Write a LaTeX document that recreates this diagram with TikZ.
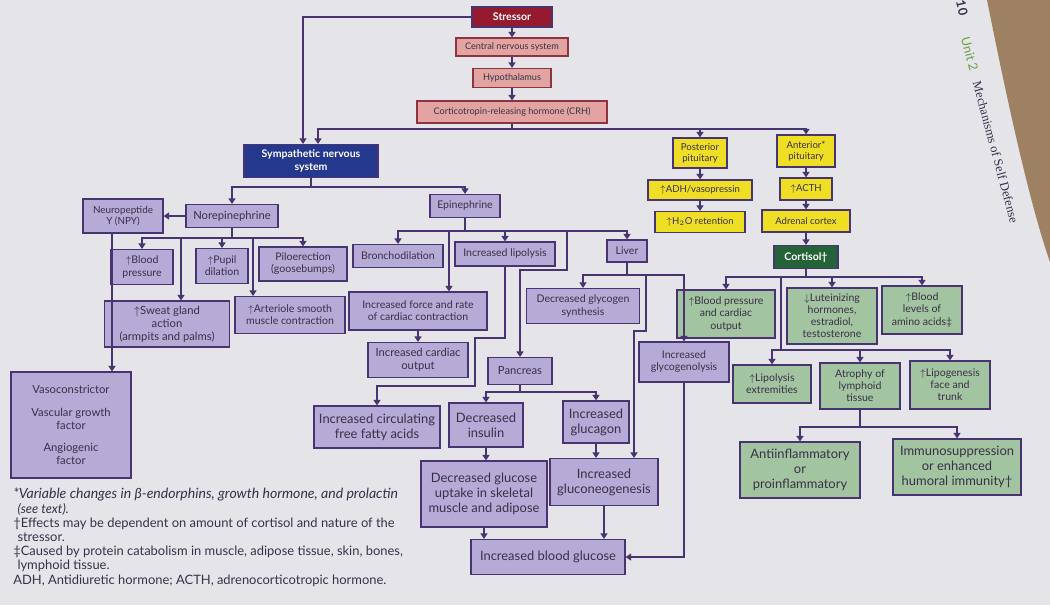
\documentclass[tikz,border=0pt]{standalone}
\usepackage{fontspec}
\setmainfont{Lato}
\newfontfamily\headfont{Liberation Serif}
\usepackage{amsmath, amssymb}
\usepackage{xcolor}
\usetikzlibrary{arrows.meta, positioning, calc}

\definecolor{PaperC}{RGB}{228,228,233}
\definecolor{CarpetC}{RGB}{158,128,98}
\definecolor{LineC}{RGB}{72,52,112}
\definecolor{TextC}{RGB}{58,48,72}
\definecolor{PurpF}{RGB}{182,170,214}
\definecolor{PinkF}{RGB}{226,164,160}
\definecolor{PinkD}{RGB}{140,52,64}
\definecolor{YelF}{RGB}{238,222,36}
\definecolor{GreenF}{RGB}{162,196,160}
\definecolor{StressF}{RGB}{150,26,46}
\definecolor{SnsF}{RGB}{36,56,142}
\definecolor{CortF}{RGB}{38,98,56}
\definecolor{UnitC}{RGB}{110,160,70}

\tikzset{
  box/.style={draw=LineC, line width=0.8pt, inner sep=1pt, align=center,
              text=TextC, font=\fontsize{7.5}{8.6}\selectfont},
  sz/.style 2 args={minimum width=#1*0.025cm, minimum height=#2*0.025cm},
  purpleB/.style={box, fill=PurpF},
  pinkB/.style={box, draw=PinkD, fill=PinkF, font=\fontsize{6.5}{7.5}\selectfont},
  yellowB/.style={box, fill=YelF, font=\fontsize{6.8}{7.8}\selectfont},
  greenB/.style={box, fill=GreenF},
  darkB/.style={box, text=white, font=\fontsize{7.5}{8.6}\selectfont\bfseries},
  txtM/.style={font=\fontsize{8}{9.2}\selectfont},
  txtS/.style={font=\fontsize{7}{8}\selectfont},
  txtL/.style={font=\fontsize{9.2}{10.6}\selectfont},
  wire/.style={draw=LineC, line width=1pt},
  conn/.style={wire, -{Triangle[width=5pt,length=4pt]}},
}

\begin{document}
\begin{tikzpicture}[x=0.025cm, y=-0.025cm]
    \useasboundingbox (0,0) rectangle (1050,605);
    %% page and carpet
    \fill[PaperC] (0,0) rectangle (1050,605);
    \fill[CarpetC] (987,0) .. controls (1008,105) and (1030,205) .. (1050,262) -- (1050,0) -- cycle;
    \node[rotate=-76, text=TextC, font=\fontsize{9}{10}\selectfont\bfseries] (pg) at (962,8) {10};
    \node[rotate=-75, text=TextC, font=\headfont\fontsize{9}{10}\selectfont] (title) at (990,130)
      {{\color{UnitC}\rmfamily Unit 2}\hspace{8pt}Mechanisms of Self Defense};

    %% stressor chain
    \node[darkB, fill=StressF, sz={80}{20}] (stress) at (512,17) {Stressor};
    \node[pinkB, sz={112}{18}] (cns) at (512,47) {Central nervous system};
    \node[pinkB, sz={78}{19}] (hypo) at (512,78) {Hypothalamus};
    \node[pinkB, sz={190}{22}] (crh) at (512,112) {Corticotropin-releasing hormone (CRH)};
    \draw[conn] (stress) -- (cns);
    \draw[conn] (cns) -- (hypo);
    \draw[conn] (hypo) -- (crh);

    %% sympathetic and pituitary
    \node[darkB, fill=SnsF, sz={134}{33}] (sns) at (311,161) {Sympathetic nervous\\system};
    \coordinate (sL) at (303,17);
    \draw[conn] (stress.west) -- (sL) -- (sL |- sns.north);
    \coordinate (crhB) at (512,129);
    \coordinate (snsR) at (318,129);
    \draw[wire] (crh.south) -- (crhB);
    \draw[conn] (crhB) -- (snsR) -- (snsR |- sns.north);
    \node[yellowB, sz={54}{30}] (post) at (700,153) {Posterior\\pituitary};
    \node[yellowB, sz={58}{32}] (ant) at (806,151) {Anterior*\\pituitary};
    \draw[conn] (crhB) -| (post);
    \draw[conn] (crhB) -| (ant);
    \node[yellowB, sz={104}{20}] (adh) at (700,190) {$\uparrow$ADH/vasopressin};
    \node[yellowB, sz={90}{21}] (h2o) at (700,222) {$\uparrow$H$_2$O retention};
    \node[yellowB, sz={52}{22}] (acth) at (806,189) {$\uparrow$ACTH};
    \node[yellowB, sz={88}{22}] (adrenal) at (806,221) {Adrenal cortex};
    \node[darkB, fill=CortF, sz={64}{23}] (cort) at (806,257) {Cortisol\textdagger};
    \draw[conn] (post) -- (adh);
    \draw[conn] (adh) -- (h2o);
    \draw[conn] (ant) -- (acth);
    \draw[conn] (acth) -- (adrenal);
    \draw[conn] (adrenal) -- (cort);

    %% cortisol effects
    \node[greenB, sz={98}{48}] (bpc) at (726,314) {$\uparrow$Blood pressure\\and cardiac\\output};
    \node[greenB, sz={90}{56}] (lh) at (832,316) {$\downarrow$Luteinizing\\hormones,\\estradiol,\\testosterone};
    \node[greenB, sz={80}{48}] (amino) at (922,310) {$\uparrow$Blood\\levels of\\amino acids\textdaggerdbl};
    \coordinate (cB) at (806,277);
    \draw[wire] (cort.south) -- (cB);
    \draw[conn] (cB) -| (bpc);
    \draw[conn] (cB) -| (lh);
    \draw[conn] (cB) -| (amino);
    \node[greenB, sz={78}{38}] (lipx) at (772,384) {$\uparrow$Lipolysis\\extremities};
    \node[greenB, sz={80}{46}] (atro) at (860,386) {Atrophy of\\lymphoid\\tissue};
    \node[greenB, sz={80}{48}] (lipg) at (950,385) {$\uparrow$Lipogenesis\\face and\\trunk};
    \coordinate (cB2) at (781,277);
    \coordinate (cB3) at (781,350);
    \draw[wire] (cB2) -- (cB3);
    \draw[conn] (cB3) -| (lipx);
    \draw[conn] (cB3) -| (atro);
    \draw[conn] (cB3) -| (lipg);
    \node[greenB, txtL, sz={120}{56}] (infl) at (800,470) {Antiinflammatory\\or\\proinflammatory};
    \node[greenB, txtL, sz={128}{56}] (immu) at (957,467) {Immunosuppression\\or enhanced\\humoral immunity\textdagger};
    \coordinate (aB) at (860,427);
    \draw[wire] (atro.south) -- (aB);
    \draw[conn] (aB) -| (infl);
    \draw[conn] (aB) -| (immu);

    %% norepinephrine side
    \coordinate (sB) at (311,187);
    \draw[wire] (sns.south) -- (sB);
    \node[purpleB, txtM, sz={92}{23}] (nor) at (232,216) {Norepinephrine};
    \node[purpleB, sz={70}{23}] (epi) at (465,206) {Epinephrine};
    \draw[conn] (sB) -| (nor);
    \draw[conn] (sB) -| (epi);
    \node[purpleB, txtS, sz={80}{34}] (npy) at (123,216) {Neuropeptide\\Y (NPY)};
    \draw[conn] (nor) -- (npy);
    \coordinate (nB) at (232,238);
    \draw[wire] (nor.south) -- (nB);
    \node[purpleB, sz={62}{35}] (bp) at (142,267) {$\uparrow$Blood\\pressure};
    \node[purpleB, sz={52}{35}] (pupil) at (222,266) {$\uparrow$Pupil\\dilation};
    \node[purpleB, sz={88}{34}] (pilo) at (303,264) {Piloerection\\(goosebumps)};
    \draw[conn] (nB) -| (bp);
    \draw[conn] (nB) -| (pupil);
    \draw[conn] (nB) -| (pilo);
    \node[purpleB, txtM, sz={125}{46}] (sweat) at (167,324) {$\uparrow$Sweat gland\\action\\(armpits and palms)};
    \node[purpleB, sz={110}{37}] (arter) at (290,315) {$\uparrow$Arteriole smooth\\muscle contraction};
    \coordinate (swB) at (181,238);
    \coordinate (arB) at (253,238);
    \draw[conn] (swB) -- (swB |- sweat.north);
    \draw[conn] (arB) -- (arB |- arter.north);
    \node[purpleB, txtM, sz={120}{106}] (vaso) at (71,425) {Vasoconstrictor\\[7pt]Vascular growth\\factor\\[7pt]Angiogenic\\factor};
    \coordinate (npyB) at (112,300);
    \draw[conn] (npy.south -| npyB) -- (npyB |- vaso.north);

    %% epinephrine side
    \coordinate (eB) at (465,231);
    \draw[wire] (epi.south) -- (eB);
    \node[purpleB, sz={90}{23}] (bronch) at (398,256) {Bronchodilation};
    \node[purpleB, sz={100}{24}] (lipo) at (505,254) {Increased lipolysis};
    \node[purpleB, sz={40}{22}] (liver) at (627,251) {Liver};
    \draw[conn] (eB) -| (bronch);
    \draw[conn] (eB) -| (lipo);
    \draw[conn] (eB) -| (liver);
    \node[purpleB, sz={138}{38}] (force) at (418,311) {Increased force and rate\\of cardiac contraction};
    \coordinate (fB) at (449,231);
    \draw[conn] (fB) -- (fB |- force.north);
    \node[purpleB, txtM, sz={100}{35}] (cout) at (418,360) {Increased cardiac\\output};
    \draw[conn] (force) -- (cout);
    \node[purpleB, txtM, sz={64}{27}] (panc) at (520,371) {Pancreas};
    \coordinate (pB) at (567,231);
    \coordinate (pB2) at (567,270);
    \coordinate (pB3) at (520,270);
    \draw[conn] (pB) -- (pB2) -- (pB3) -- (pB3 |- panc.north);
    \node[purpleB, txtL, sz={126}{42}] (ffa) at (377,427) {Increased circulating\\free fatty acids};
    \coordinate (lf1) at (505,338);
    \coordinate (lf2) at (475,338);
    \coordinate (lf3) at (475,386);
    \coordinate (lf4) at (377,386);
    \draw[conn] (lipo.south) -- (lf1) -- (lf2) -- (lf3) -- (lf4) -- (lf4 |- ffa.north);

    %% pancreas and glucose
    \node[purpleB, txtL, sz={74}{44}] (insul) at (486,425) {Decreased\\insulin};
    \node[purpleB, txtL, sz={66}{42}] (gluca) at (596,422) {Increased\\glucagon};
    \coordinate (paB) at (520,392);
    \draw[wire] (panc.south) -- (paB);
    \draw[conn] (paB) -| (insul);
    \draw[conn] (paB) -| (gluca);
    \node[purpleB, txtL, sz={126}{66}] (uptake) at (484,494) {Decreased glucose\\uptake in skeletal\\muscle and adipose};
    \node[purpleB, txtL, sz={108}{47}] (gneo) at (604,482) {Increased\\gluconeogenesis};
    \node[purpleB, txtL, sz={154}{35}] (bg) at (548,557) {Increased blood glucose};
    \draw[conn] (insul.south) -- (insul.south |- uptake.north);
    \draw[conn] (gluca.south) -- (gluca.south |- gneo.north);
    \draw[conn] (uptake.south) -- (uptake.south |- bg.north);
    \draw[conn] (gneo.south) -- (gneo.south |- bg.north);

    %% liver
    \coordinate (lvB) at (627,275);
    \draw[wire] (liver.south) -- (lvB);
    \node[purpleB, sz={113}{35}] (glysyn) at (583,306) {Decreased glycogen\\synthesis};
    \node[purpleB, sz={90}{40}] (glylys) at (684,362) {Increased\\glycogenolysis};
    \draw[conn] (lvB) -| (glysyn);
    \draw[conn] (lvB) -| (glylys);
    \coordinate (gn1) at (646,275);
    \coordinate (gn2) at (646,331);
    \coordinate (gn3) at (634,331);
    \draw[conn] (gn1) -- (gn2) -- (gn3) -- (gn3 |- gneo.north);
    \draw[conn] (glylys.south) |- (bg.east);

    %% notes
    \node[anchor=north west, align=left, text=TextC, inner sep=0pt,
          font=\fontsize{9.2}{10.1}\selectfont] (notes) at (13,488) {%
      \textit{\fontsize{10}{10.1}\selectfont *Variable changes in β-endorphins, growth hormone, and prolactin}\\
      \hspace*{3pt}\textit{(see text).}\\
      \textdagger Effects may be dependent on amount of cortisol and nature of the\\
      \hspace*{3pt}stressor.\\
      \textdaggerdbl Caused by protein catabolism in muscle, adipose tissue, skin, bones,\\
      \hspace*{3pt}lymphoid tissue.\\
      ADH, Antidiuretic hormone; ACTH, adrenocorticotropic hormone.};
\end{tikzpicture}
\end{document}
